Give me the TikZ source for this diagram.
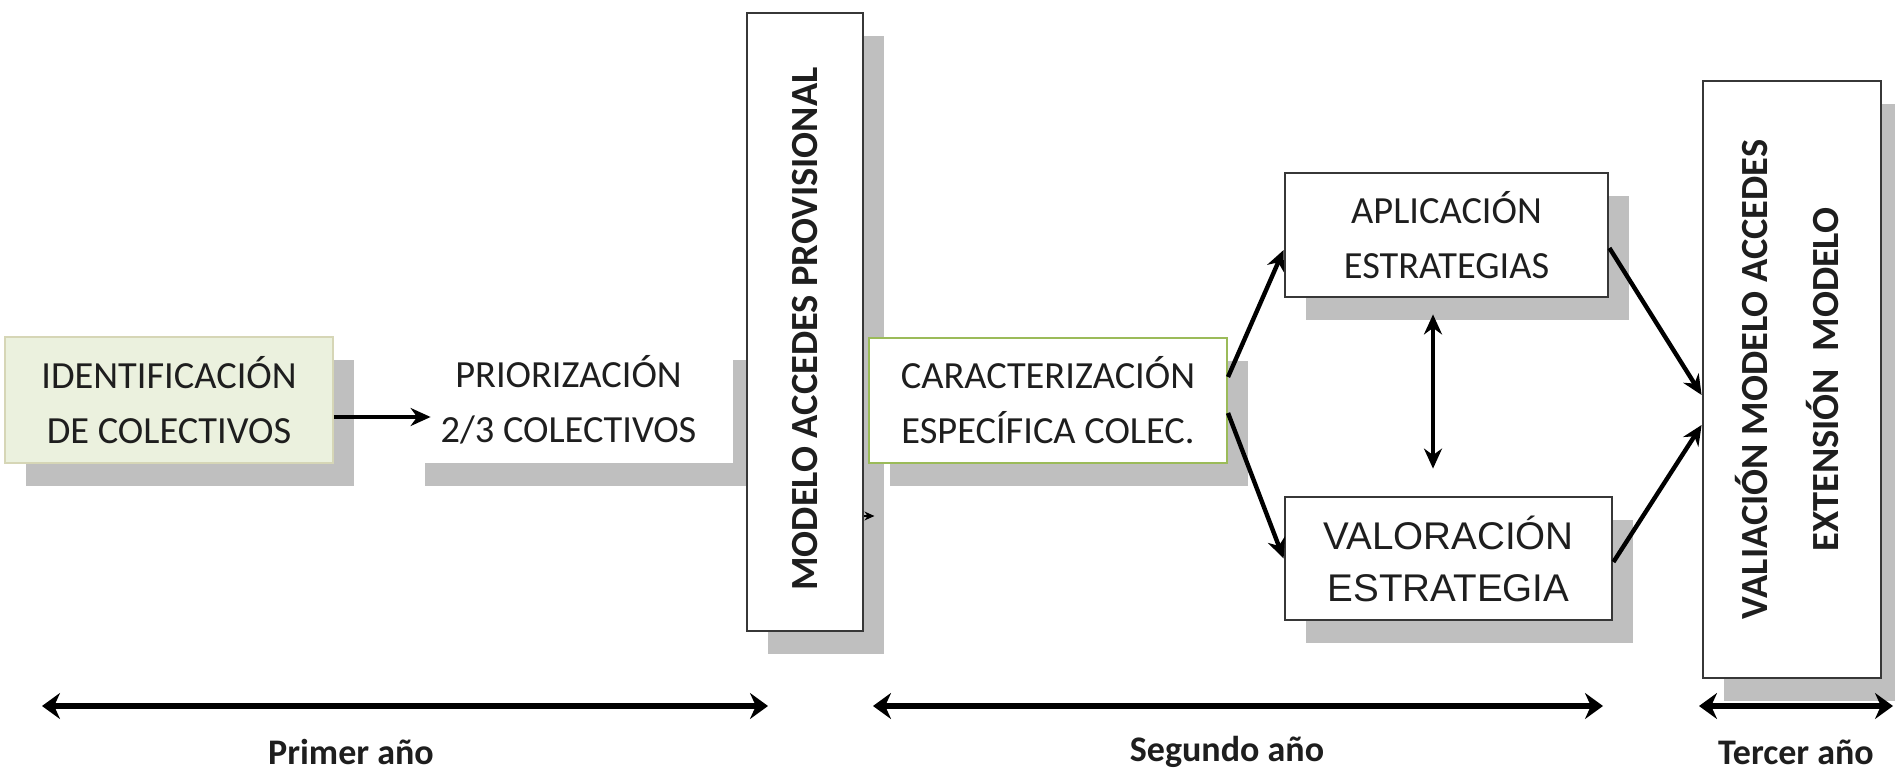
\documentclass[tikz,border=0pt]{standalone}
\usepackage{fontspec}
\setmainfont{Carlito}
\newfontfamily\arialf{Liberation Sans}
\usetikzlibrary{arrows.meta,shadows,calc}
\definecolor{shadowgray}{RGB}{191,191,191}
\definecolor{idfill}{RGB}{235,241,222}
\definecolor{idborder}{RGB}{214,214,182}
\definecolor{olivegreen}{RGB}{155,187,89}
\definecolor{boxline}{RGB}{55,55,55}
\definecolor{txt}{RGB}{30,30,30}
\begin{document}
\begin{tikzpicture}[x=0.5pt,y=-0.5pt,
  sh/.style={general shadow={shadow xshift=10.5pt,shadow yshift=-11.5pt,fill=shadowgray}},
  box/.style={sh, rectangle, inner sep=0pt, align=center, text=txt, fill=white},
  cfont/.style={font=\fontsize{19.2}{27.5}\selectfont},
  bfont/.style={font=\fontsize{19.2}{27.5}\selectfont\bfseries},
  afont/.style={font=\arialf\fontsize{19.3}{26}\selectfont},
  darkbox/.style={box, draw=boxline, line width=1.4pt},
  conn/.style={line width=2.2pt, -{Stealth[length=10pt,width=9pt]}},
  dconn/.style={line width=2.2pt, {Stealth[length=10pt,width=9pt]}-{Stealth[length=10pt,width=9pt]}},
  yeararrow/.style={line width=2.6pt, {Stealth[length=9pt,width=13pt]}-{Stealth[length=9pt,width=13pt]}},
  yearlbl/.style={font=\fontsize{18}{22}\selectfont\bfseries, text=txt, inner sep=0pt}
]
\fill[white] (0,0) rectangle (1895,775);
\useasboundingbox (0,0) rectangle (1895,775);

% boxes
\node[box, cfont, fill=idfill, draw=idborder, line width=0.8pt,
      minimum width=164pt, minimum height=63pt] (id) at (169,400)
      {IDENTIFICACIÓN\\DE COLECTIVOS};
\node[box, cfont, minimum width=164.5pt, minimum height=63pt] (prior) at (568.5,400)
      {PRIORIZACIÓN\\2/3 COLECTIVOS};
\node[darkbox, bfont, minimum width=58pt, minimum height=309pt] (modelo) at (805,322)
      {\rotatebox{90}{MODELO ACCEDES PROVISIONAL\hspace{7pt}}};
\node[box, cfont, draw=olivegreen, line width=1pt,
      minimum width=179pt, minimum height=62.5pt] (carac) at (1048,400)
      {CARACTERIZACIÓN\\ESPECÍFICA COLEC.};
\node[darkbox, cfont, minimum width=161.5pt, minimum height=62pt] (aplic) at (1446.5,235)
      {APLICACIÓN\\ESTRATEGIAS};
\node[darkbox, afont, minimum width=163.5pt, minimum height=61.5pt] (valor) at (1448.5,558.5)
      {VALORACIÓN\\ESTRATEGIA};
\node[darkbox, bfont, minimum width=89pt, minimum height=298.5pt] (valia) at (1792,379.5)
      {\rotatebox{90}{\begin{tabular}{@{}c@{}}VALIACIÓN MODELO ACCEDES\\[8pt] EXTENSIÓN\ \ MODELO\end{tabular}}};

% connectors
\draw[conn, shorten >=-13.5pt] ([yshift=-8.5pt]id.east) -- ([yshift=-8.5pt]prior.west);
\draw[conn] ([yshift=11.5pt]carac.east) -- ([yshift=-7.5pt]aplic.west);
\draw[conn] ([yshift=-6.5pt]carac.east) -- ([yshift=0pt]valor.west);
\draw[conn] ([yshift=-6.5pt]aplic.east) -- ([yshift=-7.75pt]valia.west);
\draw[conn] ([yshift=-1.75pt]valor.east) -- ([yshift=-22.75pt]valia.west);
\coordinate (mx) at (1433,400);
\draw[dconn] ([yshift=-8pt]aplic.south -| mx) -- ([yshift=13.5pt]valor.north -| mx);
% small arrowhead at right of the provisional model box
\draw[line width=0.6pt, -{Stealth[length=5pt,width=4.5pt]}] ([yshift=-97pt]modelo.east) -- ++(5pt,0);

% year arrows
\coordinate (a1l) at (42,706);   \coordinate (a1r) at (768,706);
\coordinate (a2l) at (873,706);  \coordinate (a2r) at (1603,706);
\coordinate (a3l) at (1699,706); \coordinate (a3r) at (1893,706);
\draw[yeararrow] (a1l) -- (a1r);
\draw[yeararrow] (a2l) -- (a2r);
\draw[yeararrow] (a3l) -- (a3r);
\node[yearlbl] (y1) at (351,752) {Primer año};
\node[yearlbl] (y2) at (1227,752) {Segundo año};
\node[yearlbl] (y3) at (1796,752) {Tercer año};
\end{tikzpicture}
\end{document}
